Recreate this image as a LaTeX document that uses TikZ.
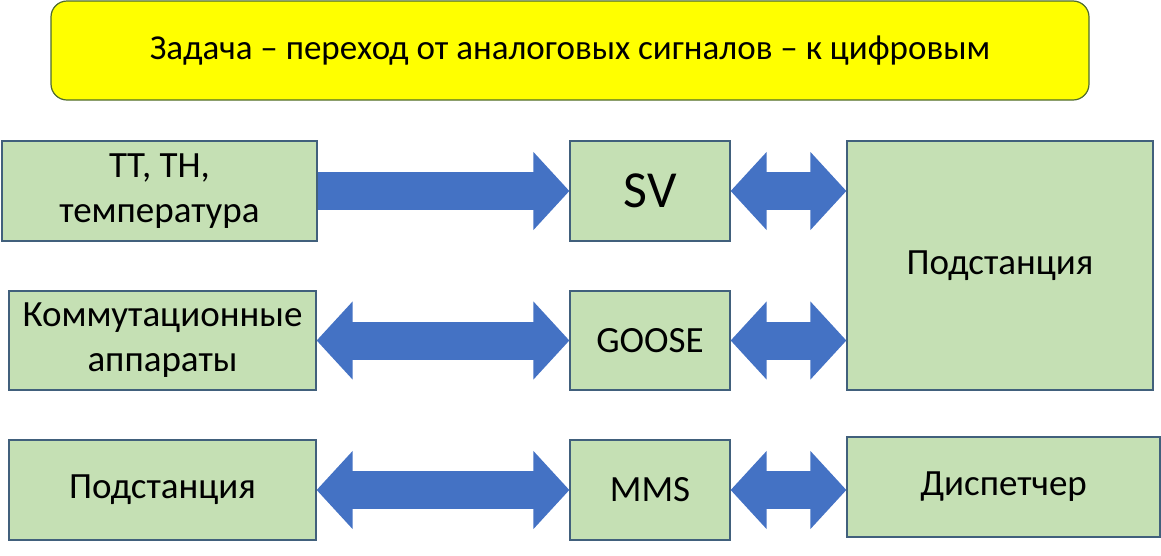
\documentclass[tikz,border=0pt]{standalone}
\usepackage{fontspec}
\setmainfont{Carlito}
\usepackage{tikz}
\usetikzlibrary{arrows.meta,positioning,calc}
\usepackage{xcolor}
\definecolor{boxgreen}{HTML}{C5E0B4}
\definecolor{boxedge}{HTML}{41607C}
\definecolor{titlefill}{HTML}{FFFF00}
\definecolor{titleedge}{HTML}{4E6B2E}
\definecolor{arrowblue}{HTML}{4472C4}

\begin{document}
\begin{tikzpicture}[
    x=1pt, y=-1pt,
    box/.style={rectangle, draw=boxedge, line width=1.2pt, fill=boxgreen, align=center, inner sep=0pt,
        font=\fontsize{37}{45}\selectfont},
    titlebox/.style={rectangle, draw=titleedge, line width=1.2pt, fill=titlefill, rounded corners=16pt,
        minimum width=1038pt, minimum height=99pt, font=\fontsize{35}{42}\selectfont},
    single/.style={arrowblue, line width=38pt, -{Triangle[length=36pt,width=76pt]}},
    both/.style={arrowblue, line width=38pt, {Triangle[length=36pt,width=76pt]}-{Triangle[length=36pt,width=76pt]}}
]
    \useasboundingbox (0,0) rectangle (1161,555);

    \node[titlebox] (task) at (570,50.5) {Задача – переход от аналоговых сигналов – к цифровым};

    % left column
    \node[box, minimum width=315pt, minimum height=100pt] (sensors) at (159.5,191) {ТТ, ТН,\\температура};
    \node[box, minimum width=307pt, minimum height=99pt] (switches) at (162.5,340.5) {Коммутационные\\аппараты};
    \node[box, minimum width=307pt, minimum height=100pt] (station2) at (162.5,490) {Подстанция};

    % protocols
    \node[box, minimum width=160pt, minimum height=100pt, font=\fontsize{52}{60}\selectfont] (sv) at (650,191) {SV};
    \node[box, minimum width=160pt, minimum height=99pt] (goose) at (650,340.5) {GOOSE};
    \node[box, minimum width=160pt, minimum height=100pt] (mms) at (650,490) {MMS};

    % right column
    \node[box, minimum width=306pt, minimum height=249pt] (station) at (1000,265.5) {Подстанция};
    \node[box, minimum width=313pt, minimum height=100pt] (dispatch) at (1003.5,487) {Диспетчер};

    \draw[single] (sensors.east) -- (sv.west);
    \draw[both] (switches.east) -- (goose.west);
    \draw[both] (station2.east) -- (mms.west);
    \draw[both] (sv.east) -- (sv.east -| station.west);
    \draw[both] (goose.east) -- (goose.east -| station.west);
    \draw[both] (mms.east) -- (mms.east -| dispatch.west);
\end{tikzpicture}
\end{document}
